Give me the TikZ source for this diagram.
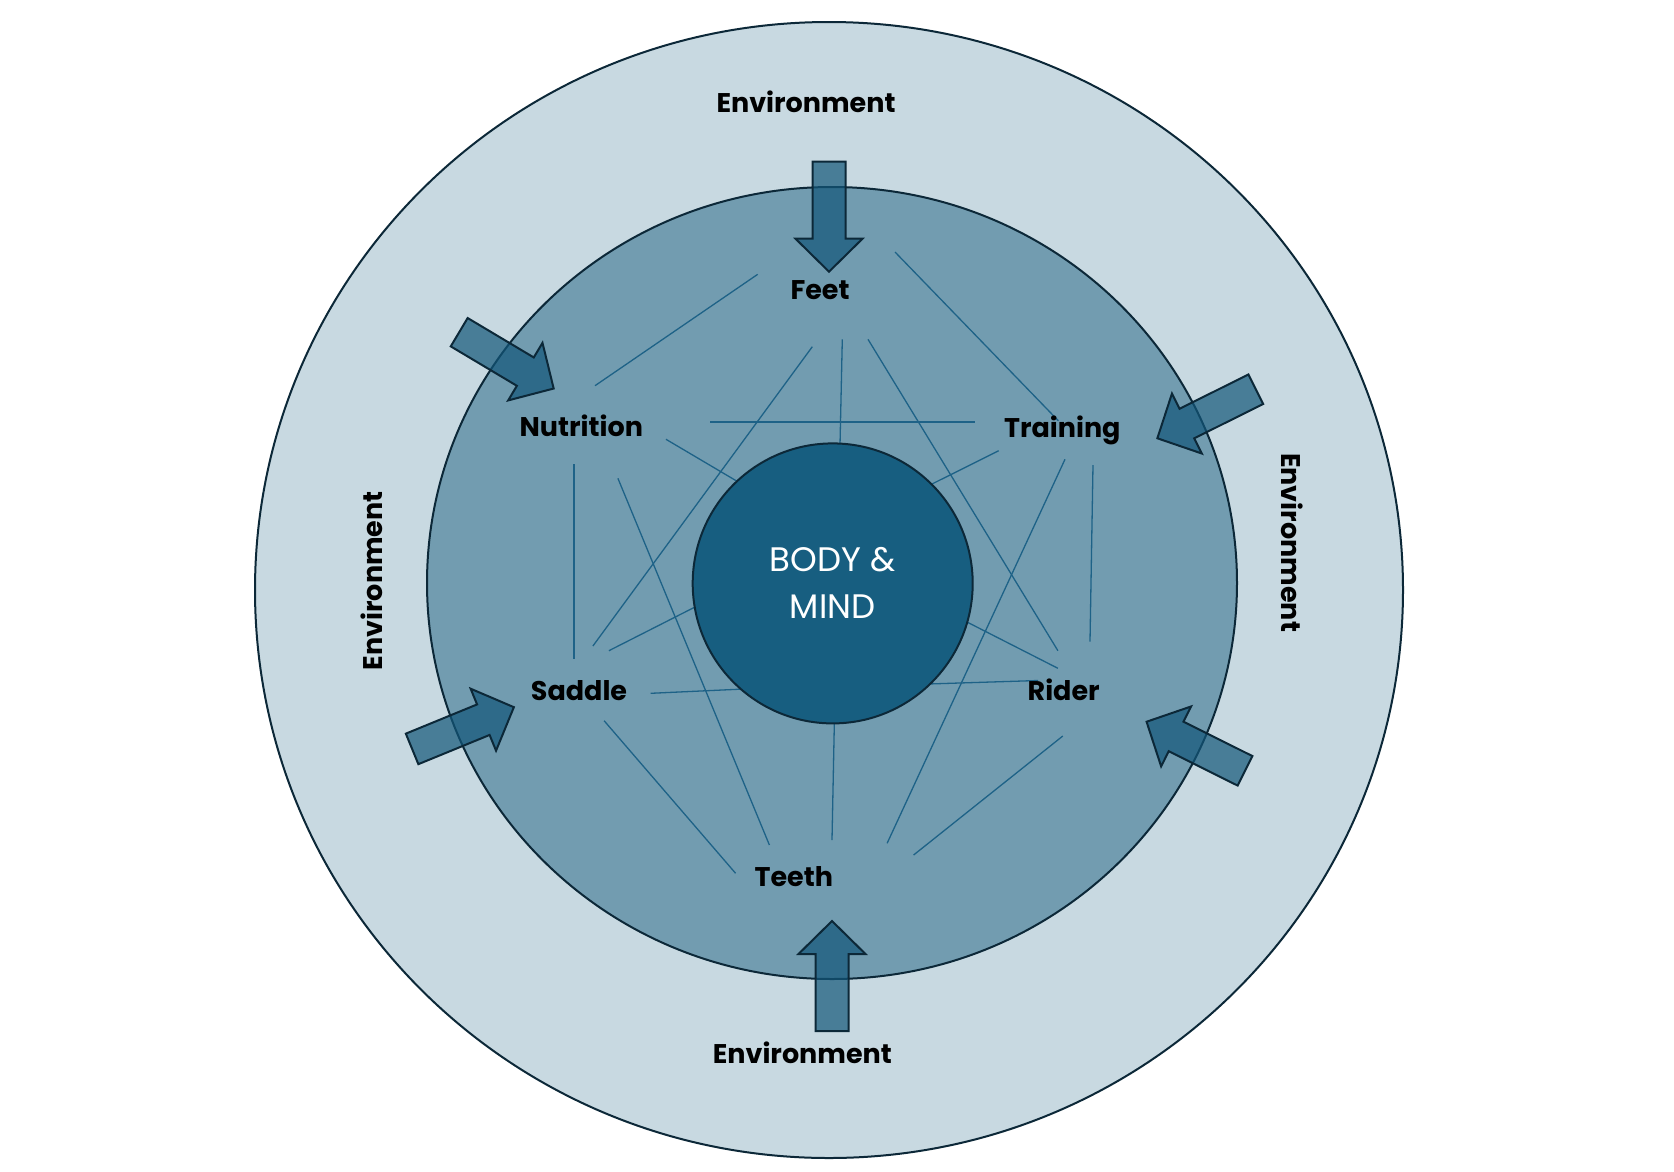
\documentclass[tikz,border=0pt]{standalone}
\usepackage{fontspec}
\setmainfont{Poppins}
\definecolor{outerfill}{RGB}{200,217,225}
\definecolor{midfill}{RGB}{114,156,176}
\definecolor{corefill}{RGB}{23,94,128}
\definecolor{edgecol}{RGB}{12,40,56}
\definecolor{linkcol}{RGB}{30,98,135}
\definecolor{arrowfill}{RGB}{18,86,121}
\tikzset{
  ring/.style={draw=edgecol, line width=2pt},
  link/.style={draw=linkcol, line width=1.3pt},
  lbl/.style={anchor=base, inner sep=0pt, text=black, font=\bfseries\fontsize{27}{30}\selectfont},
  blockarrow/.style={draw=edgecol, line width=2pt, fill=arrowfill, fill opacity=0.7, line join=miter},
  pics/inarrow/.style={code={
    \draw[blockarrow] (0,-16.5) -- (77,-16.5) -- (77,-33.5) -- (110,0) -- (77,33.5) -- (77,16.5) -- (0,16.5) -- cycle;
  }}
}
\begin{document}
\begin{tikzpicture}[x=1pt,y=-1pt]
\useasboundingbox (0,0) rectangle (1674,1171);
\fill[white] (0,0) rectangle (1674,1171);
% rings
\draw[ring, fill=outerfill] (829,590) ellipse [x radius=574pt, y radius=568pt];
\draw[ring, fill=midfill] (832,583) ellipse [x radius=405pt, y radius=396pt];
% connector end points
\coordinate (nf1) at (595,385.7);   \coordinate (nf2) at (757.7,274.3);
\coordinate (ft1) at (895,252);     \coordinate (ft2) at (1058.3,420.7);
\coordinate (nt1) at (710,422);     \coordinate (nt2) at (975,422);
\coordinate (fs1) at (812.3,346.7); \coordinate (fs2) at (592.9,646);
\coordinate (fc1) at (842.3,339.3); \coordinate (fc2) at (840,445);
\coordinate (fr1) at (868,339.3);   \coordinate (fr2) at (1057.9,650.7);
\coordinate (nc1) at (666,439.3);   \coordinate (nc2) at (740,483);
\coordinate (ns1) at (573.9,464);   \coordinate (ns2) at (573.9,659.3);
\coordinate (nte1) at (617.9,478.3);\coordinate (nte2) at (769.4,845);
\coordinate (tc1) at (998.7,450.7); \coordinate (tc2) at (930,485);
\coordinate (tte1) at (1065,459.3); \coordinate (tte2) at (887.1,843.3);
\coordinate (tr1) at (1093,465);    \coordinate (tr2) at (1090,641.7);
\coordinate (sc1) at (608.9,650.7); \coordinate (sc2) at (697,606);
\coordinate (sca1) at (650.7,693.3);\coordinate (sca2) at (744,689);
\coordinate (ste1) at (604.1,720.7);\coordinate (ste2) at (735.6,873.3);
\coordinate (cr1) at (965,621);     \coordinate (cr2) at (1057.9,668.3);
\coordinate (cra1) at (928,684);    \coordinate (cra2) at (1038.2,680.5);
\coordinate (cte1) at (834.4,720);  \coordinate (cte2) at (832,840);
\coordinate (rte1) at (1062.8,736); \coordinate (rte2) at (913.6,855);
% connectors
\draw[link] (nf1) -- (nf2);
\draw[link] (ft1) -- (ft2);
\draw[link] (nt1) -- (nt2);
\draw[link] (fs1) -- (fs2);
\draw[link] (fc1) -- (fc2);
\draw[link] (fr1) -- (fr2);
\draw[link] (nc1) -- (nc2);
\draw[link] (ns1) -- (ns2);
\draw[link] (nte1) -- (nte2);
\draw[link] (tc1) -- (tc2);
\draw[link] (tte1) -- (tte2);
\draw[link] (tr1) -- (tr2);
\draw[link] (sc1) -- (sc2);
\draw[link] (sca1) -- (sca2);
\draw[link] (ste1) -- (ste2);
\draw[link] (cr1) -- (cr2);
\draw[link] (cra1) -- (cra2);
\draw[link] (cte1) -- (cte2);
\draw[link] (rte1) -- (rte2);
% core
\node (core) [circle, draw=edgecol, line width=2pt, fill=corefill, minimum size=280pt, inner sep=0pt,
  text=white, align=center, font=\fontsize{34}{47}\selectfont] at (832.7,583.4) {BODY \&\\MIND};
% arrows
\pic[rotate=-90] at (829,161.7) {inarrow};
\pic[rotate=90] at (832,1031) {inarrow};
\pic[rotate=-30.8] at (459.2,332.2) {inarrow};
\pic[rotate=206.5] at (1255.8,389.2) {inarrow};
\pic[rotate=153.5] at (1245,770.8) {inarrow};
\pic[rotate=22.3] at (412.1,748.9) {inarrow};
% labels
\node (envtop) [lbl] at (806,112) {Environment};
\node (envbot) [lbl] at (802.3,1063) {Environment};
\node (envleft) [lbl, rotate=90] at (382.7,580.8) {Environment};
\node (envright) [lbl, rotate=-90] at (1281.7,542.5) {Environment};
\node (feet) [lbl] at (820,299.3) {Feet};
\node (nutrition) [lbl] at (581.3,436.7) {Nutrition};
\node (training) [lbl] at (1062.3,437.3) {Training};
\node (saddle) [lbl] at (579,700) {Saddle};
\node (rider) [lbl] at (1063.7,700.7) {Rider};
\node (teeth) [lbl] at (793.8,886) {Teeth};
\end{tikzpicture}
\end{document}
